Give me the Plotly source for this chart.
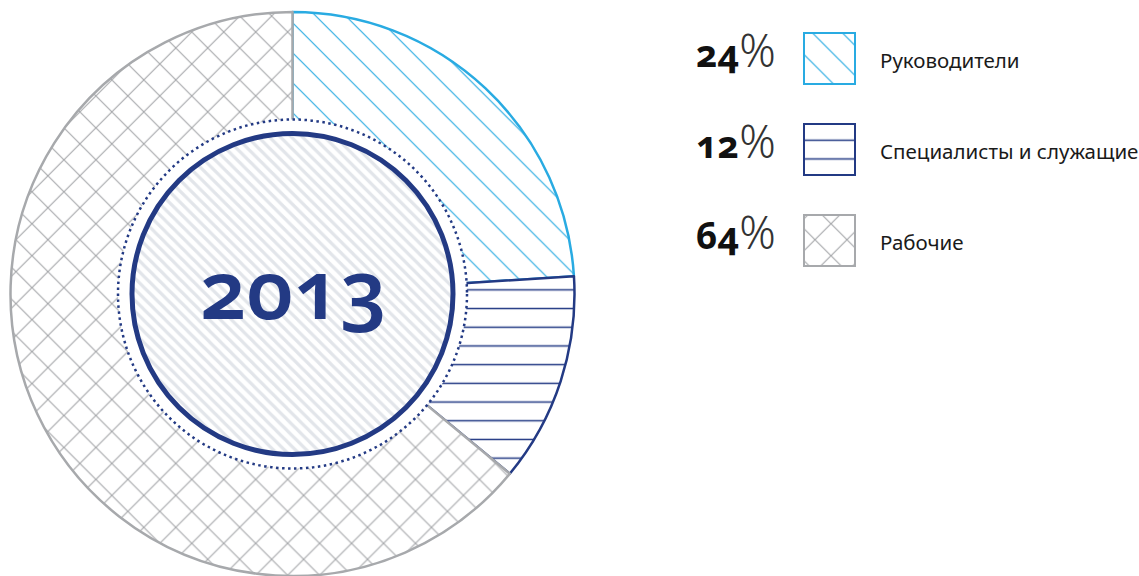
import plotly.graph_objects as go

# --- data -------------------------------------------------------------
categories = ["Руководители", "Специалисты и служащие", "Рабочие"]
shares = [24, 12, 64]
year_label = "2013"

# --- styling ----------------------------------------------------------
W, H = 1139, 576
NAVY = "#233a84"
line_colors = ["#29abe2", NAVY, "#a7a9ac"]
pattern_shapes = ["\\", "-", "x"]
pattern_sizes = [21.2, 18.7, 22.6]
pattern_solidity = [0.055, 0.08, 0.1]
FONT = "Noto Sans"
OLDSTYLE = "font-variant-numeric:oldstyle-nums"

CX, CY = 292.5, 294          # centre of the ring (px)
R_OUT, R_GAP, R_CORE = 282, 174.5, 160.5


def domain(cx, cy, r):
    """Pie domain (paper fractions) for a circle of radius r centred at (cx, cy) px."""
    return dict(x=[(cx - r) / W, (cx + r) / W],
                y=[max(0, (H - cy - r) / H), min(1, (H - cy + r) / H)])


fig = go.Figure()

# outer ring with hatched sectors
fig.add_trace(go.Pie(
    labels=categories, values=shares, sort=False, direction="clockwise",
    rotation=0, hole=0.5, domain=domain(CX, CY, R_OUT),
    marker=dict(colors=["white"] * 3,
                line=dict(color=line_colors, width=2.5),
                pattern=dict(shape=pattern_shapes, fgcolor=line_colors,
                             bgcolor="white", size=pattern_sizes,
                             solidity=pattern_solidity, fillmode="replace")),
    textinfo="none", hoverinfo="skip", showlegend=False))

# white gap between ring and core
fig.add_trace(go.Pie(
    values=[1], sort=False, domain=domain(CX, CY, R_GAP),
    marker=dict(colors=["white"], line=dict(width=0)),
    textinfo="none", hoverinfo="skip", showlegend=False))

# striped core with year
fig.add_trace(go.Pie(
    values=[1], sort=False, domain=domain(CX, CY, R_CORE),
    marker=dict(colors=["white"], line=dict(color=NAVY, width=5),
                pattern=dict(shape="\\", fgcolor="#e2e5ea", bgcolor="white",
                             size=7.8, solidity=0.4, fillmode="replace")),
    textinfo="none", hoverinfo="skip", showlegend=False))

# legend swatches as pattern-filled boxes on a pixel axis
BOX = 51
LEG_X = 829.5
row_tops = [33, 124, 215]
for i, cat in enumerate(categories):
    fig.add_trace(go.Bar(
        x=[LEG_X], y=[BOX], base=[row_tops[i]], width=[BOX],
        marker=dict(color="white", line=dict(color=line_colors[i], width=2),
                    pattern=dict(shape=pattern_shapes[i], fgcolor=line_colors[i],
                                 bgcolor="white", size=pattern_sizes[i],
                                 solidity=pattern_solidity[i], fillmode="replace")),
        hoverinfo="skip", showlegend=False))

    yc = row_tops[i] + BOX / 2
    fig.add_annotation(
        x=778, y=yc - 9, xanchor="right", yanchor="middle", showarrow=False,
        text=(f"<span style='{OLDSTYLE}'><b>{shares[i]}</b></span>"
              "<span style='font-size:45px;font-weight:300;color:#333'>%</span>"),
        font=dict(family=FONT, size=37, color="#111"))
    fig.add_annotation(
        x=878, y=yc + 1, xanchor="left", yanchor="middle", showarrow=False,
        text=cat, font=dict(family=FONT, size=20.5, color="#1a1a1a"))

# year in the middle
fig.add_annotation(
    x=CX + 1, y=CY - 7, xanchor="center", yanchor="middle", showarrow=False,
    text=f"<span style='{OLDSTYLE}'>{year_label}</span>",
    font=dict(family=FONT, size=82, color=NAVY, weight=600))

# dotted ring at the edge of the hole
fig.add_shape(type="circle", xref="x", yref="y",
              x0=CX - R_GAP, x1=CX + R_GAP, y0=CY - R_GAP, y1=CY + R_GAP,
              line=dict(color=NAVY, width=2.5, dash="2.5px,3.5px"))

fig.update_layout(
    width=W, height=H, margin=dict(l=0, r=0, t=0, b=0),
    paper_bgcolor="white", plot_bgcolor="white", barmode="overlay",
    xaxis=dict(range=[0, W], visible=False, fixedrange=True),
    yaxis=dict(range=[H, 0], visible=False, fixedrange=True),
)

fig.write_html("out.html")
